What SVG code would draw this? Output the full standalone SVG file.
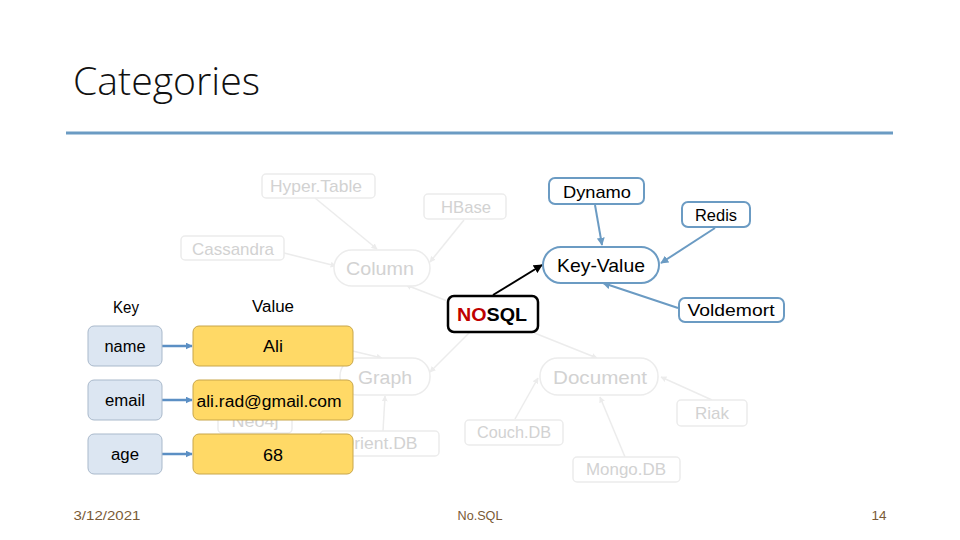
<svg xmlns="http://www.w3.org/2000/svg" width="960" height="540" viewBox="0 0 960 540">
<defs>
<style>
text{font-family:"Liberation Sans","Open Sans",sans-serif;text-anchor:middle;dominant-baseline:central}
.g rect{fill:#fff;stroke:#ececec;stroke-width:1.5}
.g text{fill:#d2d2d2;font-size:17px}
.gp text{font-size:19px}
.b rect{fill:#fff;stroke:#6b9bc3;stroke-width:2}
.b text{fill:#000;font-size:17px}
.k rect{fill:#dce6f2;stroke:#a9b9cb;stroke-width:1}
.v rect{fill:#ffd966;stroke:#c8a64a;stroke-width:1}
.k text,.v text{fill:#000;font-size:16px}
.gl{stroke:#ececec;stroke-width:1.5;fill:none;marker-end:url(#ag)}
.bl{stroke:#6b9bc3;stroke-width:2;fill:none;marker-end:url(#ab)}
.kl{stroke:#5b8fc4;stroke-width:2.5;fill:none;marker-end:url(#ak)}
.foot{fill:#7a5a36;font-size:13px}
</style>
<marker id="ag" viewBox="0 0 10 10" refX="9" refY="5" markerWidth="6" markerHeight="6" orient="auto" markerUnits="userSpaceOnUse"><path d="M0,0L10,5L0,10z" fill="#ececec"/></marker>
<marker id="ab" viewBox="0 0 10 10" refX="9" refY="5" markerWidth="8" markerHeight="8" orient="auto" markerUnits="userSpaceOnUse"><path d="M0,0L10,5L0,10z" fill="#6b9bc3"/></marker>
<marker id="ak" viewBox="0 0 10 10" refX="9" refY="5" markerWidth="7" markerHeight="7" orient="auto" markerUnits="userSpaceOnUse"><path d="M0,0L10,5L0,10z" fill="#5b8fc4"/></marker>
<marker id="abk" viewBox="0 0 10 10" refX="9" refY="5" markerWidth="9" markerHeight="9" orient="auto" markerUnits="userSpaceOnUse"><path d="M0,0L10,5L0,10z" fill="#000"/></marker>
</defs>
<rect width="960" height="540" fill="#fff"/>
<text x="73" y="80" style="text-anchor:start;font-family:'Open Sans','Liberation Sans',sans-serif;font-weight:300;font-size:38px;fill:#111" textLength="187" lengthAdjust="spacingAndGlyphs">Categories</text>
<line x1="66" y1="133" x2="893" y2="133" stroke="#6b9bc3" stroke-width="3"/>

<g id="connectors">
<line class="gl" x1="315" y1="198" x2="377" y2="249"/>
<line class="gl" x1="284" y1="253" x2="336" y2="266"/>
<line class="gl" x1="464" y1="220" x2="430" y2="262"/>
<line class="gl" x1="450" y1="302" x2="406" y2="285"/>
<line class="gl" x1="470" y1="332" x2="430" y2="372"/>
<line class="gl" x1="532" y1="332" x2="597" y2="358"/>
<line class="gl" x1="340" y1="348" x2="382" y2="358"/>
<line class="gl" x1="383" y1="431" x2="385" y2="396"/>
<line class="gl" x1="515" y1="419" x2="538" y2="378"/>
<line class="gl" x1="625" y1="457" x2="600" y2="397"/>
<line class="gl" x1="712" y1="400" x2="661" y2="377"/>
<line class="bl" x1="595" y1="205" x2="602" y2="245"/>
<line class="bl" x1="715" y1="228" x2="661" y2="263"/>
<line class="bl" x1="678" y1="308" x2="603" y2="283"/>
<line x1="493" y1="295" x2="542" y2="265" stroke="#000" stroke-width="2" marker-end="url(#abk)"/>
<line class="kl" x1="162" y1="346" x2="192" y2="346"/>
<line class="kl" x1="162" y1="400" x2="192" y2="400"/>
<line class="kl" x1="162" y1="454" x2="192" y2="454"/>
</g>

<g id="hypertable" class="g"><rect x="262" y="174" width="113" height="24" rx="4"/><text x="316" y="186" textLength="92" lengthAdjust="spacingAndGlyphs">Hyper.Table</text></g>
<g id="hbase" class="g"><rect x="424" y="194" width="82" height="25" rx="4"/><text x="466" y="207" textLength="50" lengthAdjust="spacingAndGlyphs">HBase</text></g>
<g id="cassandra" class="g"><rect x="181" y="236" width="103" height="24" rx="4"/><text x="233" y="249" textLength="82" lengthAdjust="spacingAndGlyphs">Cassandra</text></g>
<g id="column" class="g gp"><rect x="334" y="250" width="96" height="36" rx="18"/><text x="380" y="268" textLength="68" lengthAdjust="spacingAndGlyphs">Column</text></g>
<g id="graph" class="g gp"><rect x="340" y="358" width="90" height="37" rx="18"/><text x="385" y="377" textLength="54" lengthAdjust="spacingAndGlyphs">Graph</text></g>
<g id="document" class="g gp"><rect x="540" y="358" width="118" height="37" rx="18"/><text x="600" y="377" textLength="94" lengthAdjust="spacingAndGlyphs">Document</text></g>
<g id="riak" class="g"><rect x="677" y="400" width="70" height="26" rx="4"/><text x="712" y="413" textLength="34" lengthAdjust="spacingAndGlyphs">Riak</text></g>
<g id="couchdb" class="g"><rect x="465" y="420" width="98" height="25" rx="4"/><text x="514" y="432" textLength="74" lengthAdjust="spacingAndGlyphs">Couch.DB</text></g>
<g id="mongodb" class="g"><rect x="573" y="457" width="107" height="25" rx="4"/><text x="626" y="469" textLength="80" lengthAdjust="spacingAndGlyphs">Mongo.DB</text></g>
<g id="orientdb" class="g"><rect x="320" y="431" width="119" height="25" rx="4"/><text x="379" y="443" textLength="77" lengthAdjust="spacingAndGlyphs">Orient.DB</text></g>
<g id="neo4j" class="g"><rect x="218" y="408" width="74" height="25" rx="4"/><text x="255" y="421" textLength="47" lengthAdjust="spacingAndGlyphs">Neo4j</text></g>

<g id="dynamo" class="b"><rect x="549" y="178" width="95" height="26" rx="6"/><text x="597" y="192" textLength="68" lengthAdjust="spacingAndGlyphs">Dynamo</text></g>
<g id="redis" class="b"><rect x="682" y="202" width="68" height="25" rx="6"/><text x="716" y="215" textLength="42" lengthAdjust="spacingAndGlyphs">Redis</text></g>
<g id="voldemort" class="b"><rect x="679" y="298" width="105" height="24" rx="6"/><text x="731" y="310" textLength="87" lengthAdjust="spacingAndGlyphs">Voldemort</text></g>
<g id="keyvalue" class="b"><rect x="543" y="247" width="116" height="36" rx="18" stroke-width="2.5"/><text x="601" y="265" style="font-size:19px" textLength="88" lengthAdjust="spacingAndGlyphs">Key-Value</text></g>
<g id="nosql"><rect x="448" y="296" width="90" height="36" rx="6" fill="#fff" stroke="#000" stroke-width="2.5"/><text x="492" y="315" style="font-size:18px;font-weight:bold" textLength="70" lengthAdjust="spacingAndGlyphs"><tspan fill="#c00000">NO</tspan><tspan fill="#000">SQL</tspan></text></g>

<g id="key-header"><text x="126" y="307" style="font-size:16px;fill:#000" textLength="26" lengthAdjust="spacingAndGlyphs">Key</text></g>
<g id="value-header"><text x="273" y="306" style="font-size:16px;fill:#000" textLength="42" lengthAdjust="spacingAndGlyphs">Value</text></g>
<g id="k-name" class="k"><rect x="88" y="326" width="74" height="40" rx="6"/><text x="125" y="346" textLength="41" lengthAdjust="spacingAndGlyphs">name</text></g>
<g id="k-email" class="k"><rect x="88" y="380" width="74" height="40" rx="6"/><text x="125" y="400" textLength="40" lengthAdjust="spacingAndGlyphs">email</text></g>
<g id="k-age" class="k"><rect x="88" y="434" width="74" height="40" rx="6"/><text x="125" y="454" textLength="28" lengthAdjust="spacingAndGlyphs">age</text></g>
<g id="v-name" class="v"><rect x="193" y="326" width="160" height="40" rx="6"/><text x="273" y="346" textLength="20" lengthAdjust="spacingAndGlyphs">Ali</text></g>
<g id="v-email" class="v"><rect x="193" y="380" width="160" height="40" rx="6"/><text x="269" y="401" textLength="145" lengthAdjust="spacingAndGlyphs">ali.rad@gmail.com</text></g>
<g id="v-age" class="v"><rect x="193" y="434" width="160" height="40" rx="6"/><text x="273" y="455" textLength="20" lengthAdjust="spacingAndGlyphs">68</text></g>

<text class="foot" x="107" y="515" textLength="67" lengthAdjust="spacingAndGlyphs">3/12/2021</text>
<text class="foot" x="480" y="515" textLength="45" lengthAdjust="spacingAndGlyphs">No.SQL</text>
<text class="foot" x="879" y="515" textLength="15" lengthAdjust="spacingAndGlyphs">14</text>
</svg>
